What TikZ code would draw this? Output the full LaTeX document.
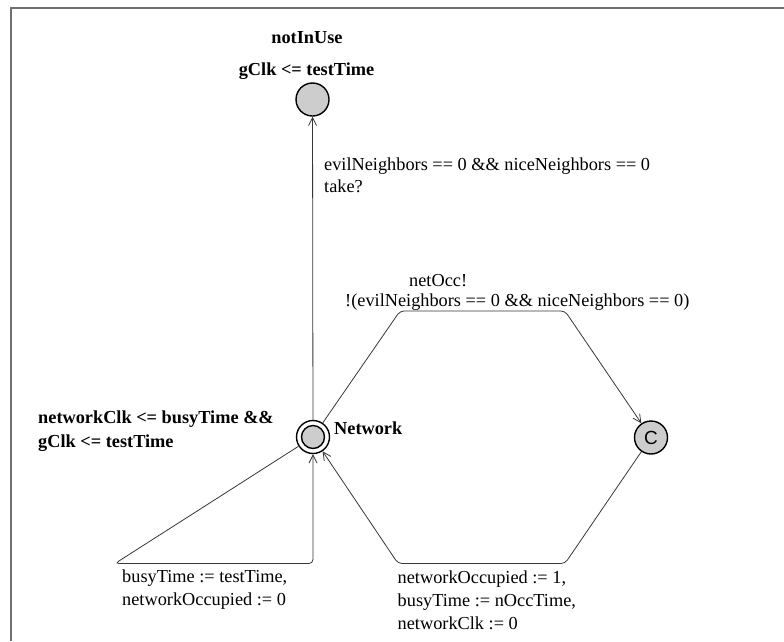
\documentclass[tikz,border=0pt]{standalone}
\usepackage{fontspec}
\setmainfont{Liberation Serif}
\newfontfamily\csans{Liberation Sans}
\usetikzlibrary{arrows.meta}
\definecolor{locfill}{RGB}{205,205,205}
\definecolor{framegray}{RGB}{112,112,112}
\definecolor{edgegray}{RGB}{55,55,55}

\begin{document}
\begin{tikzpicture}[x=1pt,y=-1pt,
  loc/.style={circle,draw=black,line width=1.4pt,fill=locfill,minimum size=33pt,inner sep=0pt},
  ring/.style={circle,draw=black,line width=1.4pt,fill=locfill,minimum size=23pt,inner sep=0pt},
  edge/.style={draw=edgegray,line width=0.8pt,rounded corners=4pt,
    -{Straight Barb[length=8pt,width=8pt,line width=0.8pt]}},
  lbl/.style={anchor=base west,inner sep=0pt,font=\fontsize{18.3}{22.5}\selectfont},
  blbl/.style={anchor=base west,inner sep=0pt,font=\fontsize{18.3}{22.5}\selectfont\bfseries}]

\useasboundingbox (0,0) rectangle (784,641);
% frame of the template
\draw[framegray,line width=2pt,line join=miter] (784,7.5) -- (11,7.5) -- (11,641);

% locations
\node[loc] (nu) at (312.5,99.5) {};
\node[loc,fill=white] (net) at (313,437) {};
\node[ring] (netinit) at (net.center) {};
\node[loc] (c) at (651,437.5) {\csans\fontsize{19}{19}\selectfont C};

% location names and invariants
\node[blbl,anchor=base] (nuname) at (307,43) {notInUse};
\node[blbl,anchor=base] (nuinv) at (306.5,75) {gClk <= testTime};
\node[blbl] (netname) at (334,434) {Network};
\node[blbl] (netinv1) at (38,423) {networkClk <= busyTime \&\&};
\node[blbl] (netinv2) at (38,447) {gClk <= testTime};

% bend points of the transitions
\coordinate (t1) at (400,311);
\coordinate (t2) at (565,311);
\coordinate (r1) at (565,563.5);
\coordinate (r2) at (398,563.5);
\coordinate (l1) at (115,563.5);
\coordinate (l2) at (313,563.5);

% transitions
\draw[edge] (net) -- (nu);
\draw[edge] (net) -- (t1) -- (t2) -- (c);
\draw[edge] (c) -- (r1) -- (r2) -- (net);
\draw[edge] (net) -- (l1) -- (l2) -- (net);

% guards, synchronisations and updates
\node[lbl] (guardA) at (324,170) {evilNeighbors == 0 \&\& niceNeighbors == 0};
\node[lbl] (syncA) at (324,192.5) {take?};
\node[lbl] (syncB) at (409,286) {netOcc!};
\node[lbl] (guardB) at (345,306.5) {!(evilNeighbors == 0 \&\& niceNeighbors == 0)};
\node[lbl] (updC1) at (122,582.5) {busyTime := testTime,};
\node[lbl] (updC2) at (122,605.5) {networkOccupied := 0};
\node[lbl] (updD1) at (397.5,583) {networkOccupied := 1,};
\node[lbl] (updD2) at (397.5,606) {busyTime := nOccTime,};
\node[lbl] (updD3) at (397.5,629) {networkClk := 0};
\end{tikzpicture}
\end{document}
